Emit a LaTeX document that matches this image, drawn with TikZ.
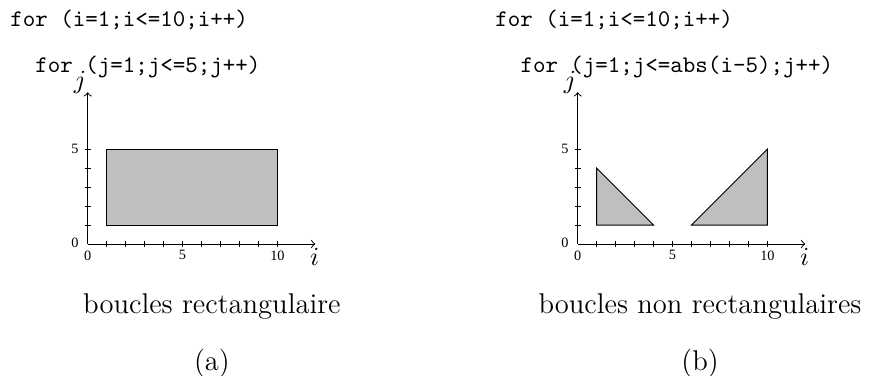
\documentclass[tikz,border=0pt]{standalone}
\usepackage{fontspec}
\usepackage{tikz}
\newfontfamily\tickfont{Liberation Serif}

\begin{document}
\begin{tikzpicture}[x=0.28cm, y=0.28cm,
  ticklab/.style={font=\tickfont\fontsize{6}{7}\selectfont, inner sep=0pt},
  axlab/.style={font=\fontsize{11}{13}\selectfont, inner sep=0pt},
  code/.style={font=\ttfamily, anchor=west, inner sep=0pt},
  capt/.style={font=\large, anchor=base, inner sep=0pt},
  region/.style={draw=black, fill=black!25}]
\useasboundingbox (-4.623,-6.958) rectangle (41.29,12.862);

% Rectangular
\begin{scope}[xshift=0cm]
\node[code] (forIa) at (-4.10,11.81) {for (i=1;i<=10;i++)};
\node[code] (forJa) at (-2.78,9.33) {for (j=1;j<=5;j++)};
\coordinate (oa) at (0,0);
\coordinate (xa) at (12,0);
\coordinate (ya) at (0,8);
\draw[->] (oa) -- (xa);
\draw[->] (oa) -- (ya);
\foreach \k in {1,...,10} \draw (\k,-0.15) -- (\k,0.15);
\foreach \k in {1,...,5} \draw (-0.15,\k) -- (0.15,\k);
\node[ticklab] (lxa0) at (0,-0.6) {0};
\node[ticklab] (lxa5) at (5,-0.6) {5};
\node[ticklab] (lxa10) at (10,-0.6) {10};
\node[ticklab] (lya0) at (-0.67,0.05) {0};
\node[ticklab] (lya5) at (-0.67,5) {5};
\node[axlab] (ia) at (11.96,-0.67) {$i$};
\node[axlab] (ja) at (-0.41,8.51) {$j$};
\draw[region] (1,1) rectangle (10,5);
\node[capt] (capa) at (6.55,-3.64) {boucles rectangulaire};
\node[capt] (suba) at (6.55,-6.69) {(a)};
\end{scope}

% Non rectangular
\begin{scope}[xshift=7.232cm]
\node[code] (forIb) at (-4.36,11.81) {for (i=1;i<=10;i++)};
\node[code] (forJb) at (-3.04,9.33) {for (j=1;j<=abs(i-5);j++)};
\coordinate (ob) at (0,0);
\coordinate (xb) at (12,0);
\coordinate (yb) at (0,8);
\draw[->] (ob) -- (xb);
\draw[->] (ob) -- (yb);
\foreach \k in {1,...,10} \draw (\k,-0.15) -- (\k,0.15);
\foreach \k in {1,...,5} \draw (-0.15,\k) -- (0.15,\k);
\node[ticklab] (lxb0) at (0,-0.6) {0};
\node[ticklab] (lxb5) at (5,-0.6) {5};
\node[ticklab] (lxb10) at (10,-0.6) {10};
\node[ticklab] (lyb0) at (-0.67,0.05) {0};
\node[ticklab] (lyb5) at (-0.67,5) {5};
\node[axlab] (ib) at (11.96,-0.67) {$i$};
\node[axlab] (jb) at (-0.41,8.51) {$j$};
\draw[region] (1,1) -- (1,4) -- (4,1) -- cycle;
\draw[region] (6,1) -- (10,1) -- (10,5) -- cycle;
\node[capt] (capb) at (6.45,-3.64) {boucles non rectangulaires};
\node[capt] (subb) at (6.45,-6.69) {(b)};
\end{scope}
\end{tikzpicture}
\end{document}
